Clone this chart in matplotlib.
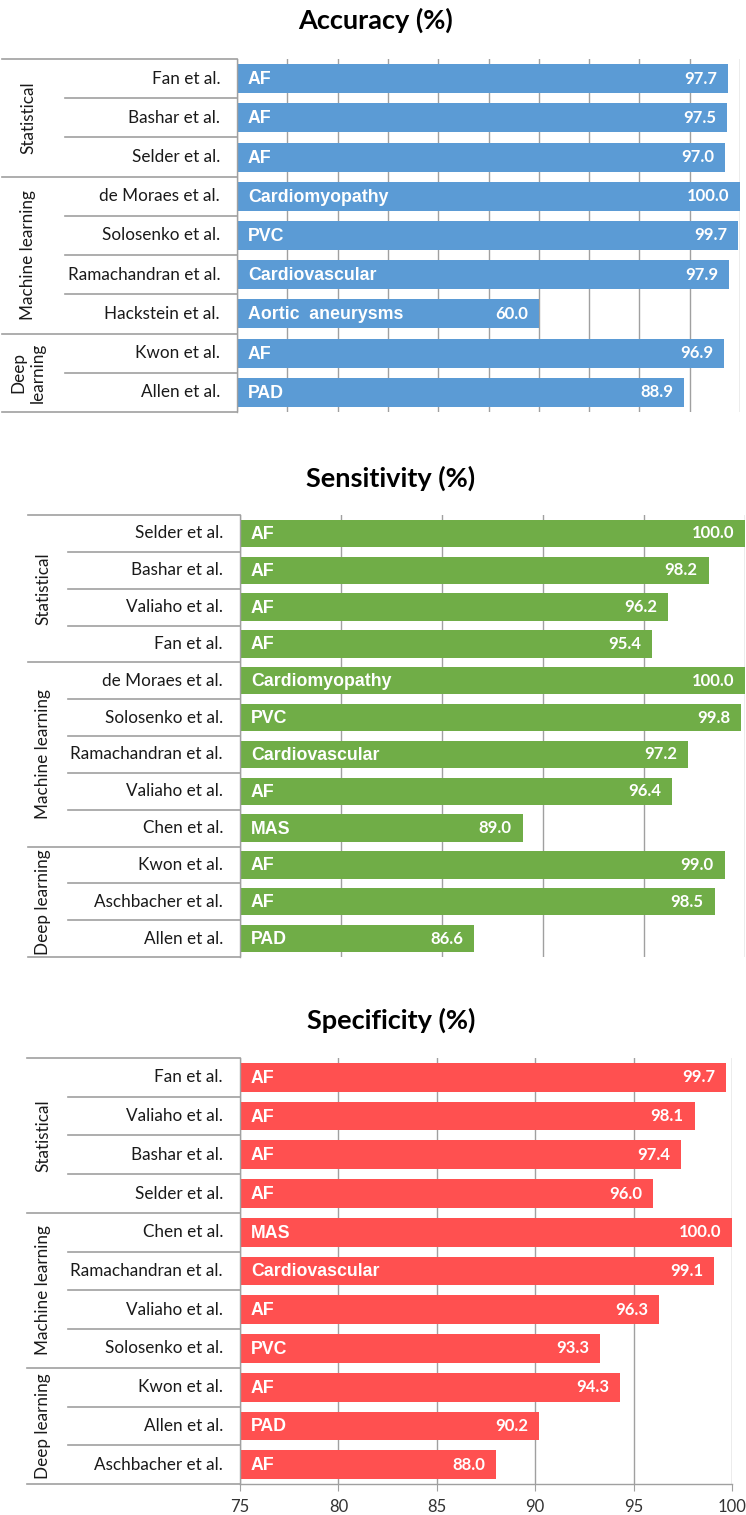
import matplotlib
matplotlib.use("Agg")
import matplotlib.pyplot as plt
import matplotlib.transforms as mtransforms

plt.rcParams['font.family'] = ['Lato', 'DejaVu Sans']

# ---- data ----
acc_names = ["Fan et al.", "Bashar et al.", "Selder et al.", "de Moraes et al.",
             "Solosenko et al.", "Ramachandran et al.", "Hackstein et al.",
             "Kwon et al.", "Allen et al."]
acc_disease = ["AF", "AF", "AF", "Cardiomyopathy", "PVC", "Cardiovascular",
               "Aortic  aneurysms", "AF", "PAD"]
acc_values = [97.7, 97.5, 97.0, 100.0, 99.7, 97.9, 60.0, 96.9, 88.9]
acc_groups = ["Statistical", "Machine learning", "Deep\nlearning"]
acc_counts = [3, 4, 2]

sen_names = ["Selder et al.", "Bashar et al.", "Valiaho et al.", "Fan et al.",
             "de Moraes et al.", "Solosenko et al.", "Ramachandran et al.",
             "Valiaho et al.", "Chen et al.", "Kwon et al.", "Aschbacher et al.",
             "Allen et al."]
sen_disease = ["AF", "AF", "AF", "AF", "Cardiomyopathy", "PVC", "Cardiovascular",
               "AF", "MAS", "AF", "AF", "PAD"]
sen_values = [100.0, 98.2, 96.2, 95.4, 100.0, 99.8, 97.2, 96.4, 89.0, 99.0, 98.5, 86.6]
sen_groups = ["Statistical", "Machine learning", "Deep learning"]
sen_counts = [4, 5, 3]

spe_names = ["Fan et al.", "Valiaho et al.", "Bashar et al.", "Selder et al.",
             "Chen et al.", "Ramachandran et al.", "Valiaho et al.",
             "Solosenko et al.", "Kwon et al.", "Allen et al.", "Aschbacher et al."]
spe_disease = ["AF", "AF", "AF", "AF", "MAS", "Cardiovascular", "AF", "PVC",
               "AF", "PAD", "AF"]
spe_values = [99.7, 98.1, 97.4, 96.0, 100.0, 99.1, 96.3, 93.3, 94.3, 90.2, 88.0]
spe_groups = ["Statistical", "Machine learning", "Deep learning"]
spe_counts = [4, 4, 3]

W, H = 746, 1515
LINE = '#A0A0A0'
TXT = '#1a1a1a'


def px_box(left, top, right, bottom):
    return [left / W, 1 - bottom / H, (right - left) / W, (bottom - top) / H]


def panel(fig, box, names, disease, values, groups, counts, color, xmin, xstep,
          line_x0, inner_x0, group_x, show_ticks=False):
    ax = fig.add_axes(px_box(*box))
    n = len(names)
    y = list(range(n))
    ax.barh(y, values, height=0.74, color=color, zorder=2)
    ax.set_xlim(xmin, 100)
    ax.set_ylim(n - 0.5, -0.5)
    ax.set_xticks([xmin + k * xstep for k in range(int((100 - xmin) / xstep) + 1)])
    ax.set_yticks([])
    ax.grid(axis='x', color=LINE, lw=1.0, zorder=0)
    ax.set_axisbelow(True)
    for s in ['top', 'right', 'bottom']:
        ax.spines[s].set_visible(False)
    ax.spines['left'].set_color(LINE)
    ax.spines['left'].set_linewidth(1.0)
    if show_ticks:
        ax.spines['bottom'].set_visible(True)
        ax.spines['bottom'].set_color(LINE)
        ax.spines['bottom'].set_linewidth(1.0)
        ax.tick_params(axis='x', length=5, color=LINE, labelsize=12,
                       labelcolor='#333333', pad=6)
    else:
        ax.tick_params(axis='x', length=0, labelbottom=False)

    for i in range(n):
        ax.annotate(disease[i], xy=(xmin, i), xytext=(11, -1),
                    textcoords='offset pixels', ha='left', va='center',
                    color='white', fontsize=12.8, fontweight='bold',
                    family=['Liberation Sans', 'DejaVu Sans'], zorder=3)
        ax.annotate("%.1f" % values[i], xy=(values[i], i), xytext=(-11, 0),
                    textcoords='offset pixels', ha='right', va='center',
                    color='white', fontsize=12, fontweight='bold', zorder=3)
        ax.annotate(names[i], xy=(0, i), xycoords=('axes fraction', 'data'),
                    xytext=(-17, 0), textcoords='offset pixels', ha='right',
                    va='center', fontsize=12.3, color=TXT)

    # multi-level category axis lines
    trans = mtransforms.blended_transform_factory(fig.transFigure, ax.transData)
    x_axis = box[0] / W
    start = 0
    for g, c in zip(groups, counts):
        ax.plot([line_x0 / W, x_axis], [start - 0.5, start - 0.5], color=LINE,
                lw=1.2, transform=trans, clip_on=False)
        for k in range(1, c):
            yy = start + k - 0.5
            ax.plot([inner_x0 / W, x_axis], [yy, yy], color=LINE, lw=1.2,
                    transform=trans, clip_on=False)
        ax.text(group_x / W, start + (c - 1) / 2, g, rotation=90, ha='center',
                va='center', fontsize=12.3, color=TXT, transform=trans,
                linespacing=1.25, multialignment='center')
        start += c
    ax.plot([line_x0 / W, x_axis], [n - 0.5, n - 0.5], color=LINE, lw=1.2,
            transform=trans, clip_on=False)
    return ax


fig = plt.figure(figsize=(W / 100, H / 100), dpi=100)

fig.text(376 / W, 1 - 20 / H, "Accuracy (%)", ha='center', va='center',
         fontsize=19.5, fontweight='bold')
panel(fig, (237, 59, 740, 412), acc_names, acc_disease, acc_values, acc_groups,
      acc_counts, '#5B9BD5', 0, 10, 2, 65, 28)

fig.text(391 / W, 1 - 478 / H, "Sensitivity (%)", ha='center', va='center',
         fontsize=19.5, fontweight='bold')
panel(fig, (240, 515, 745, 957), sen_names, sen_disease, sen_values, sen_groups,
      sen_counts, '#70AD47', 75, 5, 28, 68, 43)

fig.text(391 / W, 1 - 1020 / H, "Specificity (%)", ha='center', va='center',
         fontsize=19.5, fontweight='bold')
panel(fig, (240, 1058, 732, 1484), spe_names, spe_disease, spe_values, spe_groups,
      spe_counts, '#FF5050', 75, 5, 27, 68, 43, show_ticks=True)

fig.savefig("out.png", dpi=100)
